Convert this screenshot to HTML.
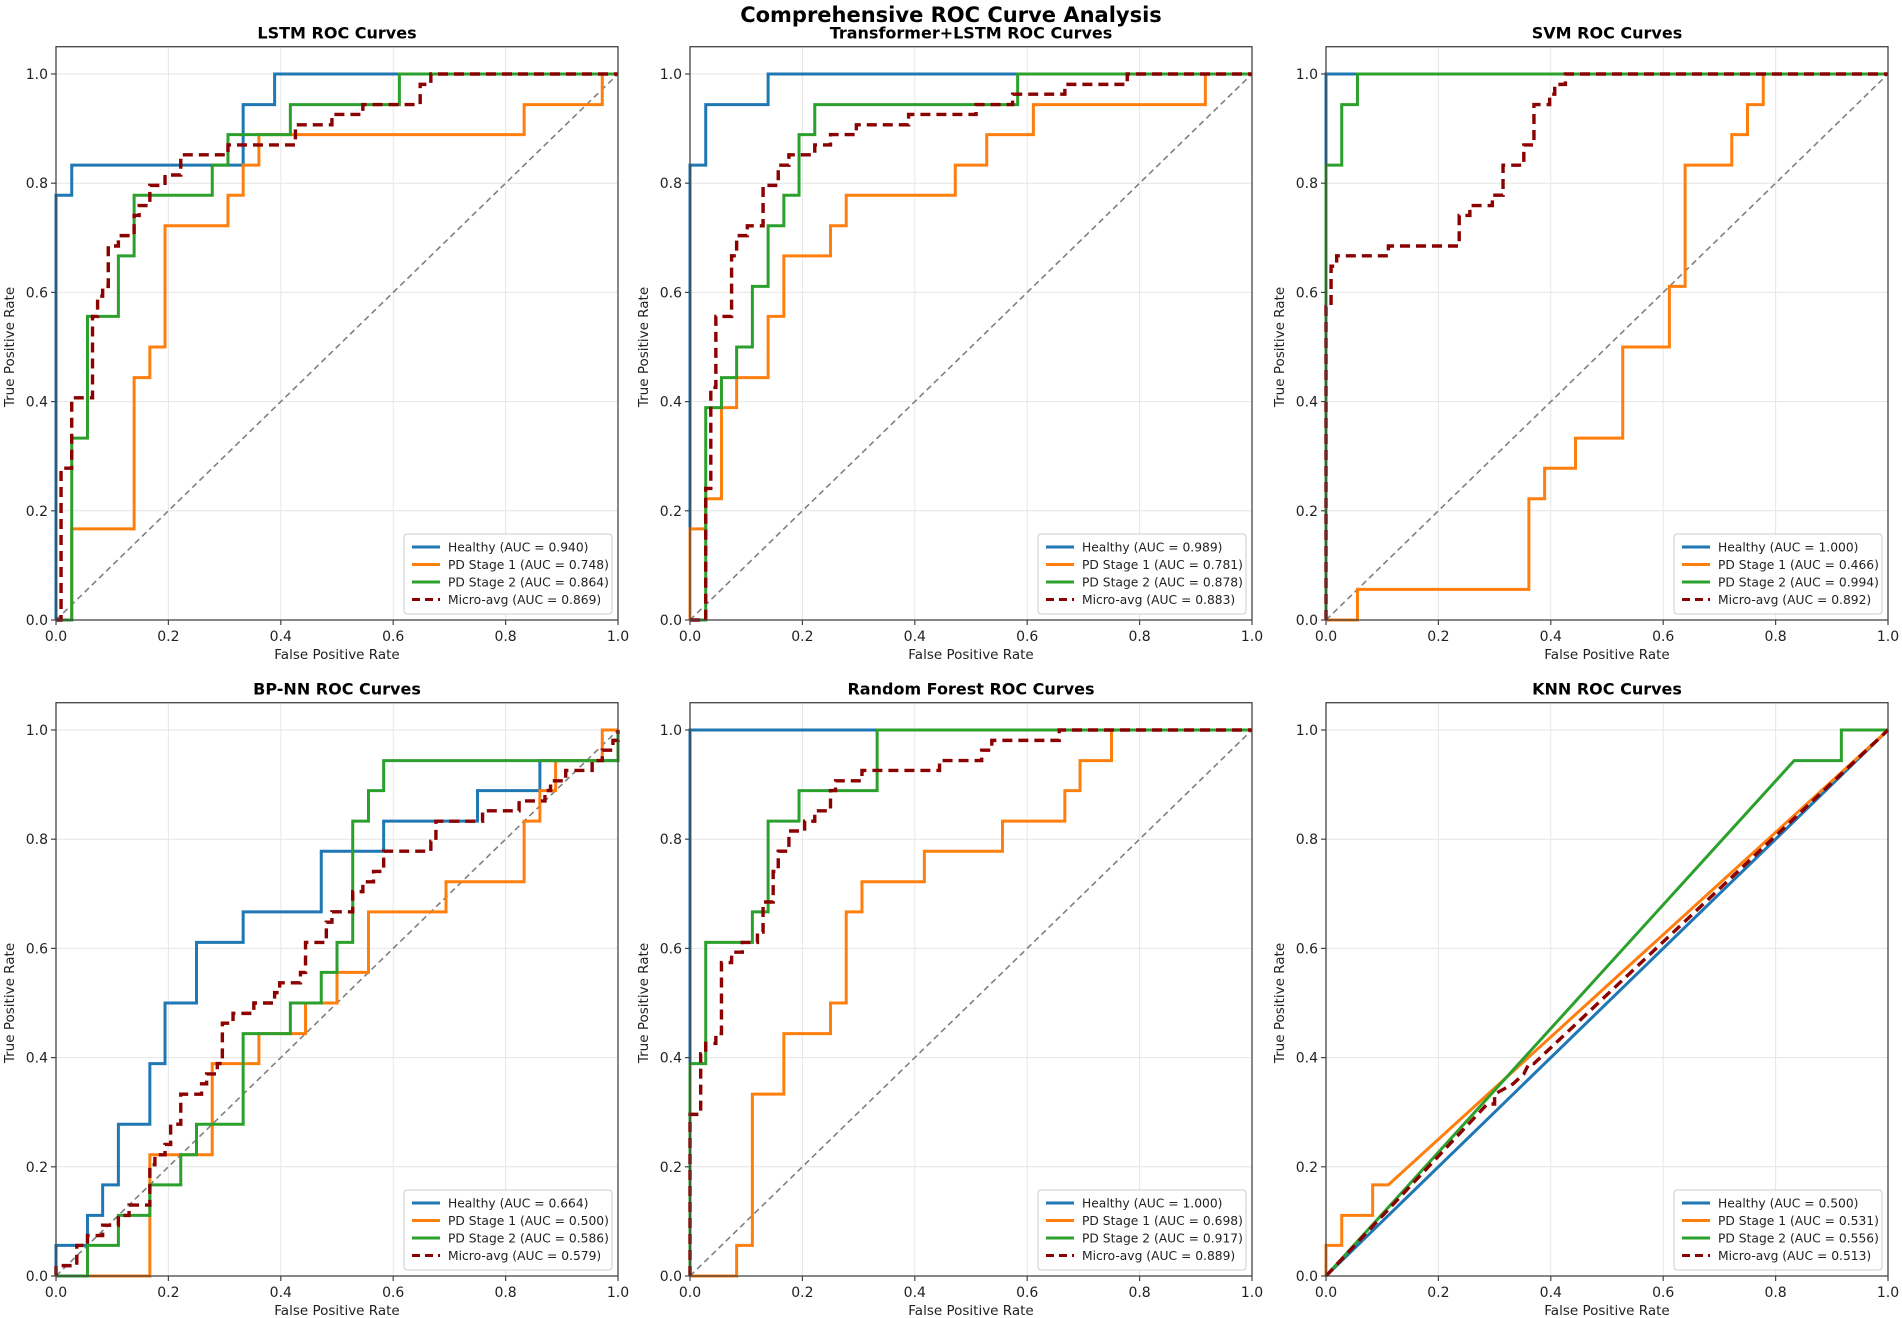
<!DOCTYPE html>
<html><head><meta charset="utf-8"><title>Comprehensive ROC Curve Analysis</title>
<style>html,body{margin:0;padding:0;background:#fff}svg{display:block;font-family:"DejaVu Sans","Liberation Sans",sans-serif}</style>
</head><body>
<svg id="fig" width="1902" height="1318" viewBox="0 0 1902 1318" xmlns="http://www.w3.org/2000/svg">
<text x="951" y="22" text-anchor="middle" font-size="21" font-weight="bold" fill="#000">Comprehensive ROC Curve Analysis</text>
</svg>
<script>
const panelTitles = ["LSTM ROC Curves","Transformer+LSTM ROC Curves","SVM ROC Curves","BP-NN ROC Curves","Random Forest ROC Curves","KNN ROC Curves"];
const classNames = ["Healthy","PD Stage 1","PD Stage 2","Micro-avg"];
const aucValues = [
 ["0.940","0.748","0.864","0.869"],
 ["0.989","0.781","0.878","0.883"],
 ["1.000","0.466","0.994","0.892"],
 ["0.664","0.500","0.586","0.579"],
 ["1.000","0.698","0.917","0.889"],
 ["0.500","0.531","0.556","0.513"]];
const tickValues = [0,0.2,0.4,0.6,0.8,1.0];
const tickLabels = ["0.0","0.2","0.4","0.6","0.8","1.0"];
// step series: each point = move horizontally to x, then vertically to y (starting at 0,0)
const lstmHealthy = [[0,0.778],[0.028,0.833],[0.333,0.944],[0.389,1],[1,1]];
const lstmStage1 = [[0.028,0.167],[0.139,0.444],[0.167,0.5],[0.194,0.722],[0.306,0.778],[0.333,0.833],[0.361,0.889],[0.833,0.944],[0.972,1],[1,1]];
const lstmStage2 = [[0.028,0.333],[0.056,0.556],[0.111,0.667],[0.139,0.778],[0.278,0.833],[0.306,0.889],[0.417,0.944],[0.611,1],[1,1]];
const lstmMicro = [[0.009,0.278],[0.028,0.407],[0.065,0.556],[0.074,0.593],[0.083,0.611],[0.093,0.685],[0.111,0.704],[0.139,0.741],[0.148,0.759],[0.167,0.796],[0.194,0.815],[0.222,0.852],[0.306,0.87],[0.426,0.907],[0.491,0.926],[0.546,0.944],[0.648,0.981],[0.667,1],[1,1]];
const trHealthy = [[0,0.833],[0.028,0.944],[0.139,1],[1,1]];
const trStage1 = [[0,0.167],[0.028,0.222],[0.056,0.389],[0.083,0.444],[0.139,0.556],[0.167,0.667],[0.25,0.722],[0.278,0.778],[0.472,0.833],[0.528,0.889],[0.611,0.944],[0.917,1],[1,1]];
const trStage2 = [[0.028,0.389],[0.056,0.444],[0.083,0.5],[0.111,0.611],[0.139,0.722],[0.167,0.778],[0.194,0.889],[0.222,0.944],[0.583,1],[1,1]];
const trMicro = [[0.028,0.241],[0.037,0.426],[0.046,0.556],[0.074,0.667],[0.083,0.704],[0.102,0.722],[0.13,0.796],[0.157,0.833],[0.176,0.852],[0.222,0.87],[0.25,0.889],[0.296,0.907],[0.389,0.926],[0.509,0.944],[0.574,0.963],[0.667,0.981],[0.778,1],[1,1]];
const svmHealthy = [[0,1],[1,1]];
const svmStage1 = [[0.056,0.056],[0.361,0.222],[0.389,0.278],[0.444,0.333],[0.528,0.5],[0.611,0.611],[0.639,0.833],[0.722,0.889],[0.75,0.944],[0.778,1],[1,1]];
const svmStage2 = [[0,0.833],[0.028,0.944],[0.056,1],[1,1]];
const svmMicro = [[0,0.574],[0.009,0.648],[0.019,0.667],[0.111,0.685],[0.237,0.741],[0.256,0.759],[0.296,0.778],[0.315,0.833],[0.352,0.87],[0.37,0.944],[0.398,0.963],[0.407,0.981],[0.426,1],[1,1]];
const bpHealthy = [[0,0.056],[0.056,0.111],[0.083,0.167],[0.111,0.278],[0.167,0.389],[0.194,0.5],[0.25,0.611],[0.333,0.667],[0.472,0.778],[0.583,0.833],[0.75,0.889],[0.861,0.944],[1,1]];
const bpStage1 = [[0.167,0.222],[0.278,0.389],[0.361,0.444],[0.444,0.5],[0.5,0.556],[0.556,0.667],[0.694,0.722],[0.833,0.833],[0.861,0.889],[0.889,0.944],[0.972,1],[1,1]];
const bpStage2 = [[0.056,0.056],[0.111,0.111],[0.167,0.167],[0.222,0.222],[0.25,0.278],[0.333,0.444],[0.417,0.5],[0.472,0.556],[0.5,0.611],[0.528,0.833],[0.556,0.889],[0.583,0.944],[1,0.944],[1,1]];
const bpMicro = [[0,0.019],[0.037,0.056],[0.056,0.074],[0.083,0.093],[0.111,0.111],[0.13,0.13],[0.167,0.204],[0.176,0.222],[0.194,0.241],[0.204,0.278],[0.222,0.333],[0.259,0.352],[0.268,0.37],[0.287,0.389],[0.296,0.463],[0.315,0.481],[0.352,0.5],[0.389,0.519],[0.398,0.537],[0.435,0.556],[0.444,0.611],[0.481,0.648],[0.491,0.667],[0.528,0.704],[0.546,0.722],[0.565,0.741],[0.583,0.778],[0.667,0.796],[0.676,0.833],[0.759,0.852],[0.824,0.87],[0.87,0.889],[0.88,0.907],[0.907,0.926],[0.954,0.944],[0.972,0.963],[0.991,0.981],[1,1]];
const rfHealthy = [[0,1],[1,1]];
const rfStage1 = [[0.083,0.056],[0.111,0.333],[0.167,0.444],[0.25,0.5],[0.278,0.667],[0.306,0.722],[0.417,0.778],[0.556,0.833],[0.667,0.889],[0.694,0.944],[0.75,1],[1,1]];
const rfStage2 = [[0,0.389],[0.028,0.611],[0.111,0.667],[0.139,0.833],[0.194,0.889],[0.333,1],[1,1]];
const rfMicro = [[0,0.296],[0.019,0.407],[0.028,0.426],[0.046,0.444],[0.056,0.574],[0.074,0.593],[0.093,0.611],[0.12,0.63],[0.13,0.685],[0.148,0.741],[0.157,0.778],[0.176,0.815],[0.204,0.833],[0.222,0.852],[0.25,0.889],[0.259,0.907],[0.306,0.926],[0.444,0.944],[0.519,0.963],[0.537,0.981],[0.657,1],[1,1]];
// KNN: linear segments between ROC points
const knnHealthy = [[0,0],[1,1]];
const knnStage1 = [[0,0],[0,0.056],[0.028,0.056],[0.028,0.111],[0.083,0.111],[0.083,0.167],[0.111,0.167],[1,1]];
const knnStage2 = [[0,0],[0.833,0.944],[0.917,0.944],[0.917,1],[1,1]];
const knnMicro = [[0,0],[0.287,0.315],[0.3,0.315],[0.3,0.333],[0.333,0.352],[0.352,0.37],[0.361,0.389],[0.37,0.389],[1,1]];

const panelSeries = [
 [lstmHealthy,lstmStage1,lstmStage2,lstmMicro],
 [trHealthy,trStage1,trStage2,trMicro],
 [svmHealthy,svmStage1,svmStage2,svmMicro],
 [bpHealthy,bpStage1,bpStage2,bpMicro],
 [rfHealthy,rfStage1,rfStage2,rfMicro],
 [knnHealthy,knnStage1,knnStage2,knnMicro]];
const panelStep = [true,true,true,true,true,false];

const NS="http://www.w3.org/2000/svg";
const svg=document.getElementById('fig');
const colors=["#1f77b4","#ff7f0e","#2ca02c","#8b0000"];
const colX=[56,690,1326], rowY0=[620,1276], W=562, H1=546;
function mk(tag,attrs,parent){const e=document.createElementNS(NS,tag);for(const k in attrs)e.setAttribute(k,attrs[k]);(parent||svg).appendChild(e);return e;}

panelTitles.forEach((title,p)=>{
  const x0=colX[p%3], y0=rowY0[Math.floor(p/3)];
  const sx=v=>x0+v*W, sy=v=>y0-v*H1;
  const g=mk('g',{});
  
  
  // grid
  tickValues.forEach(t=>{
    const gl=mk('line',{x1:sx(t),x2:sx(t),y1:sy(1.05),y2:y0,stroke:'#e6e6e6','stroke-width':1},g);
    
    
    const hl=mk('line',{x1:x0,x2:x0+W,y1:sy(t),y2:sy(t),stroke:'#e6e6e6','stroke-width':1},g);
    
    
  });
  // diagonal
  const d=mk('line',{x1:sx(0),y1:sy(0),x2:sx(1),y2:sy(1),stroke:'#808080','stroke-width':1.6,'stroke-dasharray':'6,4'},g);
  
  
  // series
  panelSeries[p].forEach((pts,s)=>{
    let dstr;
    if(panelStep[p]){dstr='M'+sx(0)+','+sy(0);pts.forEach(q=>{dstr+=' H'+sx(q[0])+' V'+sy(q[1]);});}
    else{dstr=pts.map((q,i)=>(i?'L':'M')+sx(q[0])+','+sy(q[1])).join(' ');}
    const attrs={d:dstr,fill:'none',stroke:colors[s],'stroke-width':s===3?3.4:3,'stroke-linejoin':'miter'};
    if(s===3)attrs['stroke-dasharray']='10,6';
    const path=mk('path',attrs,g);
    
    
  });
  // spines
  const fr=mk('rect',{x:x0,y:sy(1.05),width:W,height:y0-sy(1.05),fill:'none',stroke:'#444','stroke-width':1.3},g);
  
  
  // ticks
  tickValues.forEach((t,i)=>{
    mk('line',{x1:sx(t),x2:sx(t),y1:y0,y2:y0+5,stroke:'#444','stroke-width':1.2},g);
    mk('line',{x1:x0-5,x2:x0,y1:sy(t),y2:sy(t),stroke:'#444','stroke-width':1.2},g);
    const xl=mk('text',{x:sx(t),y:y0+21,'text-anchor':'middle','font-size':14,fill:'#222'},g);
    xl.textContent=tickLabels[i];
    
    
    const yl=mk('text',{x:x0-8,y:sy(t)+5,'text-anchor':'end','font-size':14,fill:'#222'},g);
    yl.textContent=tickLabels[i];
    
    
  });
  const xt=mk('text',{x:x0+W/2,y:y0+39,'text-anchor':'middle','font-size':13.5,fill:'#222'},g);
  xt.textContent='False Positive Rate';
  
  
  const yt=mk('text',{x:0,y:0,'text-anchor':'middle','font-size':13.5,fill:'#222',transform:'translate('+(x0-42)+','+sy(0.5)+') rotate(-90)'},g);
  yt.textContent='True Positive Rate';
  
  
  const tt=mk('text',{x:x0+W/2,y:sy(1.05)-8,'text-anchor':'middle','font-size':16,'font-weight':'bold',fill:'#000'},g);
  tt.textContent=title;
  
  
  // legend
  const lw=208,lh=80,lx=x0+W-lw-6,ly=y0-lh-6;
  const lg=mk('g',{},g);
  
  
  mk('rect',{x:lx,y:ly,width:lw,height:lh,rx:3,fill:'#fff','fill-opacity':0.85,stroke:'#cccccc','stroke-width':1},lg);
  classNames.forEach((c,s)=>{
    const ey=ly+13+s*17.5;
    const la={x1:lx+8,x2:lx+36,y1:ey,y2:ey,stroke:colors[s],'stroke-width':3};
    if(s===3)la['stroke-dasharray']='8,5';
    const ll=mk('line',la,lg);
    
    
    const lt=mk('text',{x:lx+44,y:ey+4.5,'font-size':12.3,fill:'#222'},lg);
    lt.textContent=c+' (AUC = '+aucValues[p][s]+')';
    
    
  });
});
</script>
</body></html>
